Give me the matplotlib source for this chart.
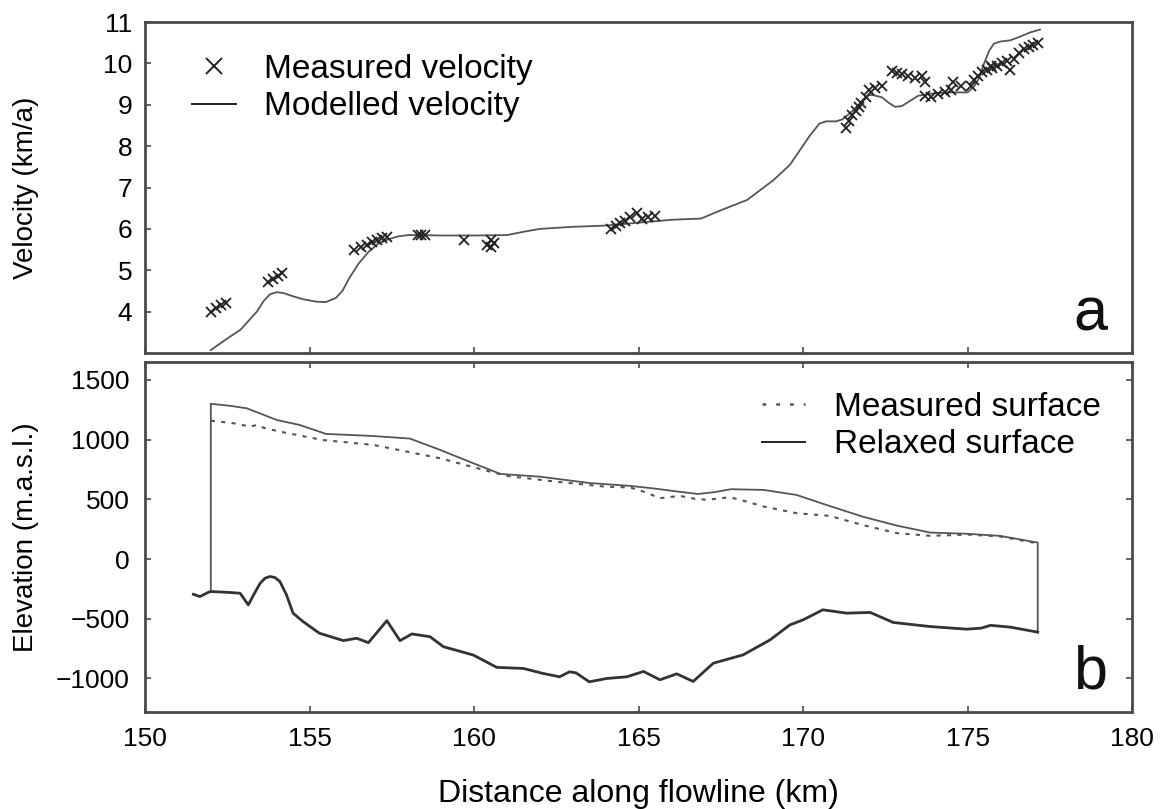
import matplotlib
matplotlib.use("Agg")
import matplotlib.pyplot as plt
from matplotlib.lines import Line2D

plt.rcParams['font.family'] = ['Liberation Sans', 'DejaVu Sans']

# ---- Panel a: velocity along the flowline ----
model_km = [152.0, 152.5, 152.9, 153.4, 153.6, 153.8, 154.0, 154.2, 154.5, 154.8,
            155.2, 155.5, 155.8, 156.0, 156.2, 156.5, 156.8, 157.1, 157.4, 157.7,
            158.0, 158.3, 159.0, 160.0, 161.0, 161.5, 162.0, 163.0, 164.0, 165.0,
            166.0, 166.9, 167.5, 168.3, 169.1, 169.6, 169.9, 170.2, 170.5, 170.7,
            171.0, 171.2, 171.5, 171.8, 172.0, 172.1, 172.4, 172.6, 172.8, 173.0,
            173.2, 173.5, 174.0, 174.5, 175.0, 175.2, 175.35, 175.5, 175.65, 175.8,
            176.0, 176.3, 176.6, 176.9, 177.2]
model_vel = [3.07, 3.35, 3.56, 4.0, 4.25, 4.42, 4.47, 4.45, 4.37, 4.3,
             4.24, 4.23, 4.33, 4.5, 4.8, 5.17, 5.45, 5.65, 5.75, 5.82,
             5.85, 5.85, 5.84, 5.84, 5.85, 5.93, 6.0, 6.05, 6.08, 6.15,
             6.22, 6.25, 6.45, 6.7, 7.18, 7.55, 7.9, 8.25, 8.55, 8.6,
             8.6, 8.65, 8.85, 9.1, 9.23, 9.24, 9.18, 9.05, 8.95, 8.97,
             9.07, 9.22, 9.28, 9.3, 9.3, 9.45, 9.65, 10.0, 10.3, 10.48,
             10.53, 10.56, 10.65, 10.75, 10.82]

meas_km = [152.0, 152.15, 152.3, 152.45,
           153.75, 153.9, 154.05, 154.15,
           156.35, 156.55, 156.75, 156.9, 157.05, 157.2, 157.35,
           158.3, 158.4, 158.5, 159.7,
           160.4, 160.5, 160.6, 160.5,
           164.15, 164.3, 164.45, 164.6, 164.75, 164.95, 165.1, 165.3, 165.5,
           171.3, 171.4, 171.5, 171.6, 171.7, 171.75, 171.9, 172.0, 172.2, 172.4,
           172.7, 172.85, 173.0, 173.2, 173.4, 173.6, 173.7,
           173.7, 173.9, 174.1, 174.3, 174.5, 174.8, 174.55,
           175.1, 175.2, 175.3, 175.45, 175.6, 175.75, 175.9, 176.05, 176.2,
           176.4, 176.55, 176.7, 176.85, 177.0, 177.15, 176.3, 175.7]
meas_vel = [4.0, 4.08, 4.15, 4.22,
            4.72, 4.8, 4.87, 4.93,
            5.48, 5.55, 5.62, 5.68, 5.72, 5.78, 5.8,
            5.86, 5.86, 5.86, 5.73,
            5.62, 5.72, 5.65, 5.55,
            6.0, 6.08, 6.15, 6.2, 6.28, 6.38, 6.25, 6.28, 6.3,
            8.45, 8.6, 8.75, 8.85, 8.95, 9.05, 9.2, 9.35, 9.4, 9.45,
            9.82, 9.78, 9.75, 9.7, 9.65, 9.7, 9.55,
            9.22, 9.2, 9.25, 9.3, 9.35, 9.45, 9.55,
            9.45, 9.6, 9.7, 9.8, 9.85, 9.9, 9.95, 10.0, 10.05,
            10.1, 10.25, 10.35, 10.4, 10.45, 10.5, 9.85, 9.95]

# ---- Panel b: geometry along the flowline ----
relax_km = [152.0, 152.6, 153.1, 154.0, 154.7, 155.5, 156.9, 158.05, 158.97, 159.98,
            160.8, 162.0, 163.5, 164.74, 165.5, 166.2, 166.8, 167.3, 167.8, 168.8,
            169.8, 170.8, 171.8, 172.85, 173.86, 174.97, 175.99, 177.13]
relax_elev = [1300, 1283, 1262, 1165, 1123, 1048, 1031, 1009, 914, 802,
              713, 690, 637, 613, 590, 565, 545, 560, 585, 579,
              537, 445, 356, 280, 222, 212, 194, 138]

surf_km = [152.0, 152.7, 153.2, 153.4, 153.6, 154.1, 155.4, 156.94, 157.95, 158.97,
           160.49, 161.0, 162.5, 164.0, 164.74, 165.2, 165.65, 166.26, 166.7, 167.07,
           167.78, 168.3, 168.8, 169.8, 170.8, 171.8, 172.85, 173.86, 174.5, 175.0,
           175.99, 177.1]
surf_elev = [1159, 1137, 1109, 1123, 1100, 1067, 997, 956, 900, 844,
             732, 696, 648, 606, 600, 560, 510, 529, 505, 496,
             518, 480, 440, 384, 362, 286, 217, 195, 200, 205,
             189, 133]

bed_km = [151.47, 151.67, 151.93, 152.0, 152.48, 152.89, 153.14, 153.3, 153.5, 153.65,
          153.8, 153.95, 154.1, 154.3, 154.5, 154.8, 155.3, 156.03, 156.43, 156.79,
          157.35, 157.75, 158.11, 158.66, 159.07, 159.98, 160.69, 161.5, 162.1, 162.6,
          162.9, 163.1, 163.5, 164.03, 164.64, 165.05, 165.15, 165.65, 166.16, 166.66,
          167.27, 168.18, 169.0, 169.6, 170.0, 170.6, 171.33, 172.04, 172.74, 173.86,
          174.97, 175.4, 175.7, 176.3, 177.13]
bed_elev = [-295, -314, -278, -272, -278, -286, -384, -300, -202, -160,
            -146, -155, -188, -300, -453, -523, -621, -683, -663, -700,
            -516, -683, -627, -650, -734, -804, -907, -916, -958, -986,
            -944, -953, -1028, -1000, -986, -950, -941, -1011, -961, -1025,
            -872, -802, -676, -551, -509, -425, -453, -447, -531, -565,
            -587, -579, -555, -570, -612]

x_ticks = [150, 155, 160, 165, 170, 175, 180]
vel_ticks = [4, 5, 6, 7, 8, 9, 10, 11]
elev_ticks = [-1000, -500, 0, 500, 1000, 1500]

frame_col = '#4a4a4a'
line_col = '#555555'
bed_col = '#333333'
label_fs = 20
legend_fs = 24
tick_fs = 19

fig = plt.figure(figsize=(11.6, 8.09), dpi=100)
ax1 = fig.add_axes([0.125, 0.5637, 0.851, 0.409])
ax2 = fig.add_axes([0.125, 0.12, 0.851, 0.4325])

for ax in (ax1, ax2):
    for sp in ax.spines.values():
        sp.set_color(frame_col)
        sp.set_linewidth(2.0)
    ax.set_xlim(150, 180)
    ax.set_xticks(x_ticks)

ax1.plot(model_km, model_vel, color=line_col, lw=1.3, zorder=2)
ax1.plot(meas_km, meas_vel, linestyle='none', marker='x', ms=7, mew=1.3,
         color='#222222', zorder=3)
ax1.set_ylim(3, 11)
ax1.set_yticks(vel_ticks)
ax1.tick_params(axis='both', direction='in', length=4, width=1.2, color=frame_col,
                labelsize=tick_fs, pad=9)
ax1.tick_params(axis='x', labelbottom=False)
ax1.set_ylabel('Velocity (km/a)', fontsize=label_fs)
ax1.yaxis.set_label_coords(-0.107, 0.5)
ax1.text(0.975, 0.03, 'a', transform=ax1.transAxes, ha='right', va='bottom',
         fontsize=44, color='#111111')

h1 = [Line2D([], [], linestyle='none', marker='x', ms=12, mew=1.4, color='#222222'),
      Line2D([], [], color='#222222', lw=1.4)]
ax1.legend(h1, ['Measured velocity', 'Modelled velocity'], loc='upper left',
           bbox_to_anchor=(0.048, 0.905), frameon=False, fontsize=legend_fs,
           handlelength=1.3, handletextpad=0.85, labelspacing=0.2,
           borderpad=0, borderaxespad=0)

# glacier outline: head wall, relaxed surface, calving front
outline_km = [relax_km[0]] + relax_km + [relax_km[-1]]
outline_elev = [bed_elev[3]] + relax_elev + [bed_elev[-1]]
ax2.plot(outline_km, outline_elev, color=line_col, lw=1.3, zorder=2)
ax2.plot(surf_km, surf_elev, color=line_col, lw=1.5, linestyle=(0, (2, 3)), zorder=2)
ax2.plot(bed_km, bed_elev, color=bed_col, lw=2.0, zorder=3)
ax2.set_ylim(-1280, 1650)
ax2.set_yticks(elev_ticks)
ax2.tick_params(axis='both', direction='in', length=4, width=1.2, color=frame_col,
                labelsize=tick_fs, pad=11, top=True, right=True)
ax2.set_ylabel('Elevation (m.a.s.l.)', fontsize=label_fs)
ax2.yaxis.set_label_coords(-0.107, 0.5)
ax2.set_xlabel('Distance along flowline (km)', fontsize=23, labelpad=20)
ax2.text(0.975, 0.03, 'b', transform=ax2.transAxes, ha='right', va='bottom',
         fontsize=44, color='#111111')

h2 = [Line2D([], [], color=line_col, lw=1.8, linestyle=(0, (1.5, 4))),
      Line2D([], [], color='#222222', lw=1.4)]
ax2.legend(h2, ['Measured surface', 'Relaxed surface'], loc='upper right',
           bbox_to_anchor=(0.968, 0.915), frameon=False, fontsize=legend_fs,
           handlelength=1.3, handletextpad=0.85, labelspacing=0.2,
           borderpad=0, borderaxespad=0)

fig.savefig('out.png', dpi=100)
